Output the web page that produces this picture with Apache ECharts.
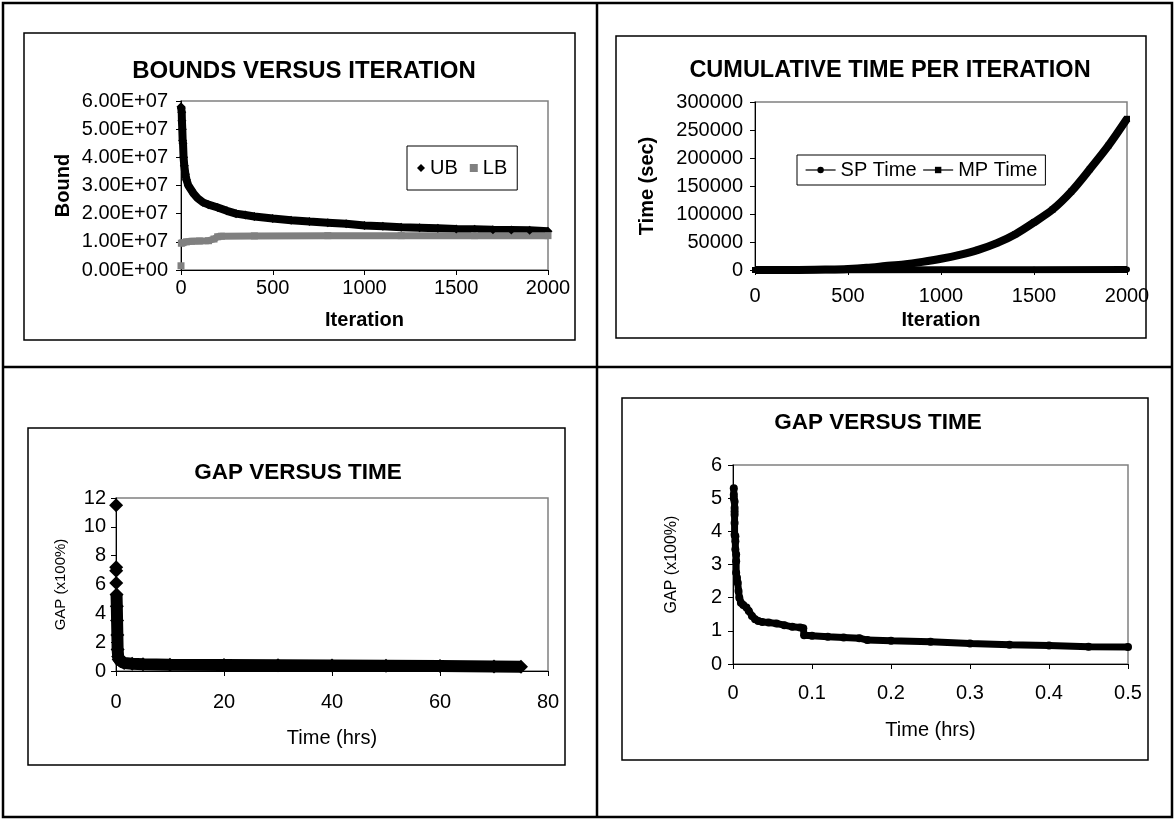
<!DOCTYPE html>
<html>
<head>
<meta charset="utf-8">
<script src="https://cdn.jsdelivr.net/npm/echarts@6/dist/echarts.min.js"></script>
<style>
  html, body { margin: 0; padding: 0; background: #fff; }
  #main { width: 1175px; height: 820px; }
</style>
</head>
<body>
<div id="main"></div>
<script>
// bounds versus iteration  [iteration, bound]
var ubData = [[0,5.8e7],[2,5.75e7],[4,5.6e7],[5,5.3e7],[7,5.0e7],[9,4.6e7],[11,4.5e7],[14,4.0e7],[18,3.7e7],[24,3.4e7],[30,3.2e7],[40,3.0e7],[55,2.85e7],[70,2.7e7],[90,2.55e7],[120,2.4e7],[150,2.32e7],[200,2.22e7],[250,2.1e7],[300,2.0e7],[350,1.95e7],[400,1.9e7],[500,1.83e7],[600,1.77e7],[700,1.72e7],[800,1.68e7],[900,1.64e7],[1000,1.58e7],[1100,1.55e7],[1200,1.52e7],[1300,1.5e7],[1400,1.48e7],[1500,1.46e7],[1600,1.45e7],[1700,1.43e7],[1800,1.42e7],[1900,1.41e7],[2000,1.38e7]];
var lbStart = [[0,0.15e7]];
var lbData = [[2,0.95e7],[10,0.97e7],[30,1.0e7],[60,1.02e7],[100,1.03e7],[150,1.04e7],[180,1.1e7],[200,1.18e7],[220,1.2e7],[400,1.21e7],[800,1.22e7],[1200,1.22e7],[1600,1.22e7],[2000,1.22e7]];

// cumulative time per iteration  [iteration, sec]
var spTime = [[0,0],[500,200],[1000,400],[1500,600],[2000,800]];
var mpTime = [[0,0],[200,0],[400,1000],[500,2000],[600,4000],[700,7000],[800,10000],[900,14500],[1000,20000],[1100,27000],[1200,36000],[1300,48000],[1400,64000],[1500,85000],[1600,108000],[1700,140000],[1800,180000],[1900,222000],[2000,270000]];

// gap versus time, full run  [hrs, gap]
var gapOutliers = [[0.02,11.5],[0.03,7.2],[0.04,6.95],[0.05,6.1]];
var gapAll = [[0.1,5.3],[0.15,4.5],[0.2,3.5],[0.25,2.5],[0.3,1.5],[0.4,1.0],[0.5,0.8],[0.8,0.7],[1.5,0.55],[3,0.5],[5,0.47],[10,0.44],[20,0.42],[30,0.4],[40,0.38],[50,0.36],[60,0.34],[70,0.32],[75,0.3]];

// gap versus time, first half hour  [hrs, gap]
var gapEarly = [[0.001,5.3],[0.001,5.1],[0.001,5.0],[0.002,4.9],[0.002,4.7],[0.002,4.6],[0.002,4.5],[0.002,4.25],[0.002,3.9],[0.003,3.85],[0.003,3.7],[0.003,3.45],[0.004,3.3],[0.004,3.1],[0.004,2.75],[0.005,2.6],[0.006,2.45],[0.007,2.2],[0.008,2.0],[0.01,1.85],[0.013,1.78],[0.017,1.7],[0.02,1.6],[0.024,1.45],[0.028,1.35],[0.032,1.3],[0.037,1.27],[0.045,1.25],[0.055,1.22],[0.065,1.17],[0.075,1.12],[0.085,1.1],[0.089,1.08],[0.09,0.87],[0.1,0.85],[0.12,0.82],[0.14,0.8],[0.16,0.78],[0.17,0.72],[0.2,0.7],[0.25,0.67],[0.3,0.62],[0.35,0.58],[0.4,0.56],[0.45,0.52],[0.5,0.51]];

var FONT = 'Liberation Sans, Arial, sans-serif';

function plain(v) { return String(v); }

function xAxisOf(idx, min, max, step, name, gap, margin, bold) {
  return {
    gridIndex: idx, type: 'value', min: min, max: max, interval: step,
    name: name, nameLocation: 'middle', nameGap: gap,
    nameTextStyle: { color: '#000', fontFamily: FONT, fontSize: 20, fontWeight: bold ? 'bold' : 'normal' },
    axisLine: { lineStyle: { color: '#000', width: 1 } },
    axisTick: { inside: false, length: 5, lineStyle: { color: '#000' } },
    axisLabel: { color: '#000', fontFamily: FONT, fontSize: 20, margin: margin, formatter: plain },
    splitLine: { show: false }
  };
}
function yAxisOf(idx, min, max, step, name, gap, margin, bold, nameSize, fmt) {
  return {
    gridIndex: idx, type: 'value', min: min, max: max, interval: step,
    name: name, nameLocation: 'middle', nameGap: gap,
    nameTextStyle: { color: '#000', fontFamily: FONT, fontSize: nameSize, fontWeight: bold ? 'bold' : 'normal' },
    axisLine: { show: true, lineStyle: { color: '#000', width: 1 } },
    axisTick: { show: true, inside: false, length: 5, lineStyle: { color: '#000' } },
    axisLabel: { color: '#000', fontFamily: FONT, fontSize: 20, margin: margin, formatter: fmt || plain },
    splitLine: { show: false }
  };
}

function titleStyle(size) {
  return { color: '#000', fontFamily: FONT, fontWeight: 'bold', fontSize: size };
}

var option = {
  animation: false,
  backgroundColor: '#fff',
  textStyle: { fontFamily: FONT },
  graphic: [
    // table frame
    { type: 'rect', shape: { x: 3, y: 3, width: 1169, height: 814 }, style: { fill: 'none', stroke: '#000', lineWidth: 2.5 } },
    { type: 'line', shape: { x1: 597, y1: 3, x2: 597, y2: 817 }, style: { stroke: '#000', lineWidth: 2.5 } },
    { type: 'line', shape: { x1: 3, y1: 367, x2: 1172, y2: 367 }, style: { stroke: '#000', lineWidth: 2.5 } },
    // chart boxes
    { type: 'rect', shape: { x: 24, y: 33, width: 551, height: 307 }, style: { fill: 'none', stroke: '#000', lineWidth: 1.5 } },
    { type: 'rect', shape: { x: 616, y: 36, width: 530, height: 302 }, style: { fill: 'none', stroke: '#000', lineWidth: 1.5 } },
    { type: 'rect', shape: { x: 28, y: 428, width: 537, height: 337 }, style: { fill: 'none', stroke: '#000', lineWidth: 1.5 } },
    { type: 'rect', shape: { x: 622, y: 398, width: 526, height: 362 }, style: { fill: 'none', stroke: '#000', lineWidth: 1.5 } }
  ],
  title: [
    { text: 'BOUNDS VERSUS ITERATION', left: 304, top: 59, textAlign: 'center', padding: 0, textStyle: titleStyle(24) },
    { text: 'CUMULATIVE TIME PER ITERATION', left: 890, top: 59, textAlign: 'center', padding: 0, textStyle: titleStyle(23.5) },
    { text: 'GAP VERSUS TIME', left: 298, top: 461, textAlign: 'center', padding: 0, textStyle: titleStyle(22.5) },
    { text: 'GAP VERSUS TIME', left: 878, top: 411, textAlign: 'center', padding: 0, textStyle: titleStyle(22.5) }
  ],
  legend: [
    {
      left: 407, top: 146, orient: 'horizontal', padding: [12, 10], itemGap: 12,
      borderColor: '#000', borderWidth: 1, itemWidth: 8, itemHeight: 8,
      textStyle: { color: '#000', fontFamily: FONT, fontSize: 20 },
      data: [{ name: 'UB', icon: 'diamond' }, { name: 'LB', icon: 'rect' }]
    },
    {
      left: 797, top: 155, orient: 'horizontal', padding: [5, 8], itemGap: 6,
      borderColor: '#000', borderWidth: 1, itemWidth: 30, itemHeight: 8,
      lineStyle: { width: 1.2 },
      textStyle: { color: '#000', fontFamily: FONT, fontSize: 20 },
      data: ['SP Time', 'MP Time']
    }
  ],
  grid: [
    { left: 181, top: 101, width: 367, height: 169, show: true, borderColor: '#808080', borderWidth: 1.5 },
    { left: 755, top: 102, width: 372, height: 168, show: true, borderColor: '#808080', borderWidth: 1.5 },
    { left: 116, top: 498, width: 432, height: 173, show: true, borderColor: '#808080', borderWidth: 1.5 },
    { left: 733, top: 465, width: 395, height: 199, show: true, borderColor: '#808080', borderWidth: 1.5 }
  ],
  xAxis: [
    xAxisOf(0, 0, 2000, 500, 'Iteration', 40, 8, true),
    xAxisOf(1, 0, 2000, 500, 'Iteration', 40, 16, true),
    xAxisOf(2, 0, 80, 20, 'Time (hrs)', 57, 21, false),
    xAxisOf(3, 0, 0.5, 0.1, 'Time (hrs)', 56, 19, false)
  ],
  yAxis: [
    yAxisOf(0, 0, 6e7, 1e7, 'Bound', 108, 13, true, 20, function (v) {
      return v === 0 ? '0.00E+00' : (v / 1e7).toFixed(2) + 'E+07';
    }),
    yAxisOf(1, 0, 300000, 50000, 'Time (sec)', 98, 12, true, 20),
    yAxisOf(2, 0, 12, 2, 'GAP (x100%)', 48, 10, false, 15),
    yAxisOf(3, 0, 6, 1, 'GAP (x100%)', 53, 11, false, 16)
  ],
  series: [
    {
      name: 'UB', type: 'line', xAxisIndex: 0, yAxisIndex: 0, data: ubData,
      symbol: 'diamond', symbolSize: 9, showSymbol: true,
      lineStyle: { color: '#000', width: 8 }, itemStyle: { color: '#000' }
    },
    {
      name: 'LB', type: 'scatter', xAxisIndex: 0, yAxisIndex: 0, data: lbStart,
      symbol: 'rect', symbolSize: 7, itemStyle: { color: '#808080', opacity: 1 }
    },
    {
      name: 'LB', type: 'line', xAxisIndex: 0, yAxisIndex: 0, data: lbData,
      symbol: 'rect', symbolSize: 7, showSymbol: true,
      lineStyle: { color: '#808080', width: 7 }, itemStyle: { color: '#808080' }
    },
    {
      name: 'SP Time', type: 'line', xAxisIndex: 1, yAxisIndex: 1, data: spTime,
      symbol: 'circle', symbolSize: 6, showSymbol: true,
      lineStyle: { color: '#000', width: 7 }, itemStyle: { color: '#000' }
    },
    {
      name: 'MP Time', type: 'line', xAxisIndex: 1, yAxisIndex: 1, data: mpTime,
      symbol: 'rect', symbolSize: 6, showSymbol: true, smooth: 0.3,
      lineStyle: { color: '#000', width: 8 }, itemStyle: { color: '#000' }
    },
    {
      name: 'gapOutliers', type: 'scatter', xAxisIndex: 2, yAxisIndex: 2, data: gapOutliers,
      symbol: 'diamond', symbolSize: 14, itemStyle: { color: '#000', opacity: 1 }
    },
    {
      name: 'gapAll', type: 'line', xAxisIndex: 2, yAxisIndex: 2, data: gapAll,
      symbol: 'diamond', symbolSize: 14, showSymbol: true,
      lineStyle: { color: '#000', width: 12 }, itemStyle: { color: '#000' }
    },
    {
      name: 'gapEarly', type: 'line', xAxisIndex: 3, yAxisIndex: 3, data: gapEarly,
      symbol: 'circle', symbolSize: 8, showSymbol: true,
      lineStyle: { color: '#000', width: 7 }, itemStyle: { color: '#000' }
    }
  ]
};

var myChart = echarts.init(document.getElementById('main'));
myChart.setOption(option);
</script>
</body>
</html>
